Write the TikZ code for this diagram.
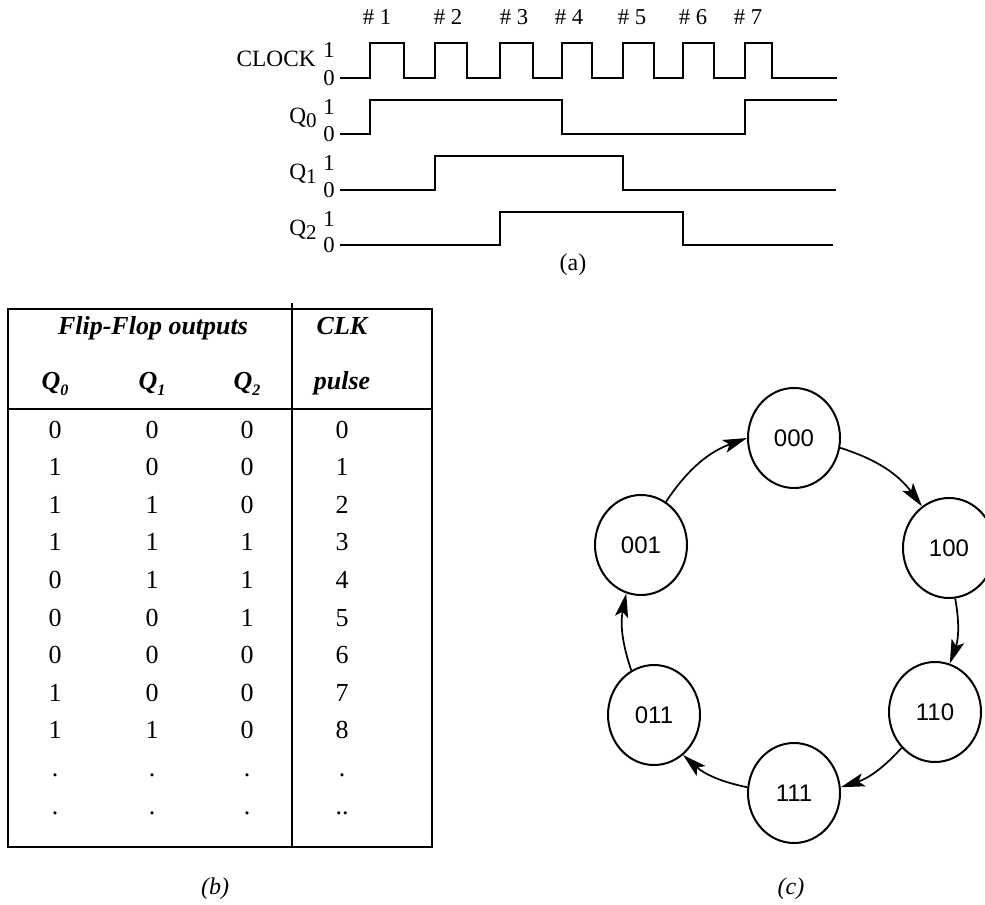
\documentclass[tikz,border=0pt]{standalone}
\usepackage{fontspec}
\setmainfont{Liberation Serif}
\newfontfamily\statefont{Liberation Sans}
\usepackage{tikz}
\usetikzlibrary{arrows.meta,positioning,shapes.geometric}

\newcommand{\wsub}[1]{\raisebox{-0.35ex}{\scalebox{0.9}{#1}}}
\newcommand{\tsub}[1]{\raisebox{-0.45ex}{\fontsize{12}{12}\selectfont #1}}

\begin{document}
\begin{tikzpicture}[
    x=0.75pt, y=-0.75pt,
    wave/.style={line width=1.3pt, draw=black},
    level/.style={font=\fontsize{17}{17}\selectfont, inner sep=0pt},
    signal/.style={font=\fontsize{17.5}{17.5}\selectfont, anchor=east, inner sep=0pt},
    grid/.style={line width=1.8pt, draw=black},
    head/.style={font=\fontsize{19.5}{20}\selectfont\bfseries\itshape, anchor=base, inner sep=0pt},
    cell/.style={font=\fontsize{19.5}{20}\selectfont, anchor=base, inner sep=0pt},
    state/.style={ellipse, draw=black, line width=1.5pt, inner sep=0pt, minimum width=69pt, minimum height=75pt, font=\statefont\fontsize{18}{18}\selectfont},
    edge/.style={-{Stealth[length=18pt, width=10pt, inset=4pt]}, line width=1.3pt, draw=black},
    caption/.style={font=\fontsize{18}{18}\selectfont}
]
    \useasboundingbox (0,0) rectangle (985,905);

    % Timing diagram: labels
    \foreach \x/\n in {377/1, 448/2, 514/3, 569/4, 632/5, 693/6, 748/7}
        \node[level] (tick\n) at (\x,17) {\# \n};

    \node[signal] (clk) at (316,59) {CLOCK};
    \node[level] (clkhi) at (329,50) {1};
    \node[level] (clklo) at (329,78) {0};
    \node[signal] (qzero) at (317,118) {Q\wsub{0}};
    \node[level] (qzerohi) at (329,107) {1};
    \node[level] (qzerolo) at (329,134) {0};
    \node[signal] (qone) at (317,174) {Q\wsub{1}};
    \node[level] (qonehi) at (329,163) {1};
    \node[level] (qonelo) at (329,190) {0};
    \node[signal] (qtwo) at (317,230) {Q\wsub{2}};
    \node[level] (qtwohi) at (329,219) {1};
    \node[level] (qtwolo) at (329,245) {0};

    % Timing diagram: waveforms
    \draw[wave] (340,78)
        \foreach \r/\f in {370/404, 435/467, 500/533, 562/592, 623/654, 683/714, 745/772}
            { -- (\r,78) -- (\r,43) -- (\f,43) -- (\f,78) } -- (837,78);
    \draw[wave] (340,134) -- (370,134) -- (370,100) -- (562,100) -- (562,134) -- (745,134) -- (745,100) -- (837,100);
    \draw[wave] (340,190) -- (435,190) -- (435,156) -- (623,156) -- (623,190) -- (836,190);
    \draw[wave] (340,245) -- (500,245) -- (500,212) -- (683,212) -- (683,245) -- (833,245);

    \node[caption] (capa) at (573,265) {(a)};

    % Truth table
    \draw[grid] (8,309) rectangle (432,847);
    \draw[grid] (8,409) -- (432,409);
    \draw[grid] (292,303) -- (292,847);

    \node[head] (hflip) at (153,335) {Flip-Flop outputs};
    \node[head] (hclk) at (342,335) {CLK};
    \node[head] (hqzero) at (55,390) {Q\tsub{0}};
    \node[head] (hqone) at (152,390) {Q\tsub{1}};
    \node[head] (hqtwo) at (247,390) {Q\tsub{2}};
    \node[head] (hpulse) at (342,390) {pulse};

    \foreach \a/\b/\c/\d [count=\i from 0] in {0/0/0/0, 1/0/0/1, 1/1/0/2, 1/1/1/3, 0/1/1/4, 0/0/1/5, 0/0/0/6, 1/0/0/7, 1/1/0/8, ./././., ./././..} {
        \node[cell] (qa\i) at (55,{438+37.6*\i}) {\a};
        \node[cell] (qb\i) at (152,{438+37.6*\i}) {\b};
        \node[cell] (qc\i) at (247,{438+37.6*\i}) {\c};
        \node[cell] (cp\i) at (342,{438+37.6*\i}) {\d};
    }

    \node[caption, font=\fontsize{18}{18}\selectfont\itshape] (capb) at (215,889) {(b)};

    % State diagram
    \node[state] (s000) at (794,438) {000};
    \node[state] (s100) at (949,548) {100};
    \node[state] (s110) at (935,712) {110};
    \node[state] (s111) at (794,793) {111};
    \node[state] (s011) at (654,715) {011};
    \node[state] (s001) at (641,545) {001};

    \draw[edge] (s000.-12) to[bend left=18] (s100.123);
    \draw[edge] (s100.277) to[bend left=15] (s110.73);
    \draw[edge] (s110.227) to[bend left=15] (s111.7);
    \draw[edge] (s111.173) to[bend left=15] (s011.306);
    \draw[edge] (s011.117) to[bend left=15] (s001.253);
    \draw[edge] (s001.60) to[bend left=18] (s000.180);

    \node[caption, font=\fontsize{18}{18}\selectfont\itshape] (capc) at (791,889) {(c)};

\end{tikzpicture}
\end{document}
